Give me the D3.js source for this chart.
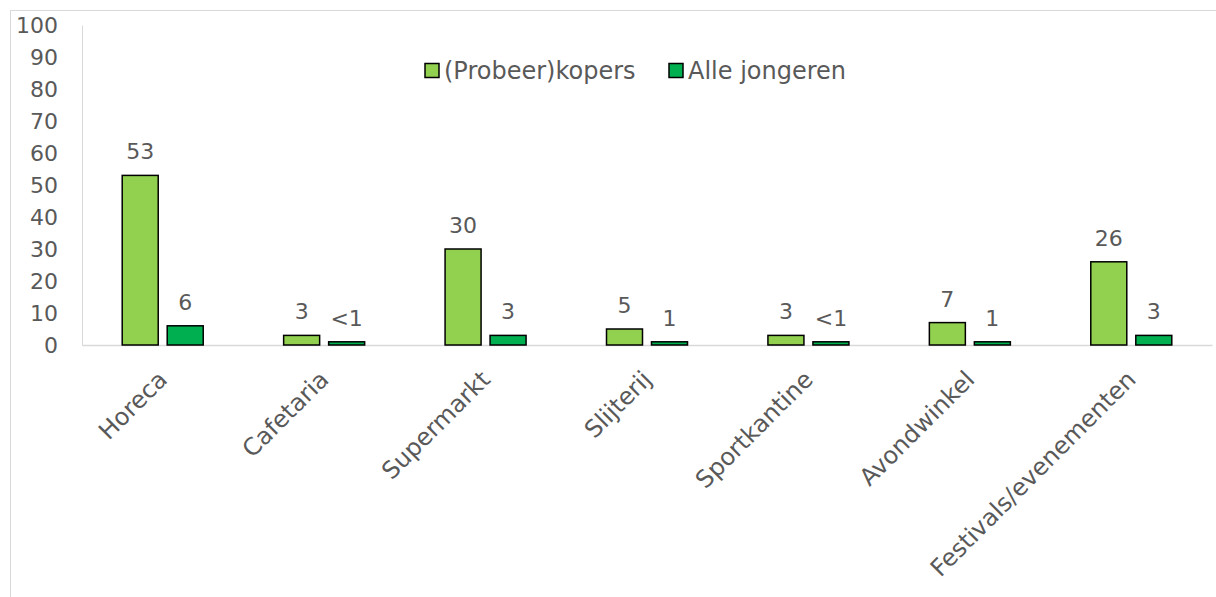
<!DOCTYPE html>
<html>
<head>
<meta charset="utf-8">
<script src="https://cdn.jsdelivr.net/npm/d3@7"></script>
<style>
  body { margin: 0; background: #fff; }
  text { font-family: "DejaVu Sans", Verdana, sans-serif; fill: #595959; }
</style>
</head>
<body>
<script>
const categories = ["Horeca", "Cafetaria", "Supermarkt", "Slijterij", "Sportkantine", "Avondwinkel", "Festivals/evenementen"];
const seriesNames = ["(Probeer)kopers", "Alle jongeren"];
const kopers = [53, 3, 30, 5, 3, 7, 26];
const jongeren = [6, 1, 3, 1, 1, 1, 3];
const kopersLabels = ["53", "3", "30", "5", "3", "7", "26"];
const jongerenLabels = ["6", "<1", "3", "1", "<1", "1", "3"];
const yTicks = [0, 10, 20, 30, 40, 50, 60, 70, 80, 90, 100];
const colors = ["#92D050", "#00B050"];

const W = 1216, H = 597;
const plotLeft = 82, plotRight = 1212, plotTop = 25, plotBottom = 345;
const fsNum = 22;   // numbers
const fsText = 24;  // words

const svg = d3.select("body").append("svg")
    .attr("width", W)
    .attr("height", H);

// chart border (runs off the right and bottom edges)
svg.append("rect")
    .attr("x", 10.5).attr("y", 10.5)
    .attr("width", W).attr("height", H)
    .attr("fill", "none")
    .attr("stroke", "#d9d9d9");

const x = d3.scaleBand()
    .domain(categories)
    .range([plotLeft, plotRight]);

const y = d3.scaleLinear()
    .domain([0, 100])
    .range([plotBottom, plotTop]);

// y axis
const yAxis = svg.append("g")
    .attr("transform", "translate(" + plotLeft + ",0)")
    .call(d3.axisLeft(y).tickValues(yTicks).tickSize(0).tickPadding(24));
yAxis.select(".domain").attr("stroke", "#d9d9d9");
yAxis.selectAll("text")
    .style("font-size", fsNum + "px")
    .style("font-family", "DejaVu Sans, Verdana, sans-serif")
    .attr("fill", "#595959");

// x axis
const xAxis = svg.append("g")
    .attr("transform", "translate(0," + plotBottom + ")")
    .call(d3.axisBottom(x).tickSize(0).tickFormat(""));
xAxis.select(".domain").attr("stroke", "#d9d9d9").attr("stroke-width", 1.5);

const barW = 36, gap = 9;
const series = [kopers, jongeren];
const labels = [kopersLabels, jongerenLabels];

series.forEach(function (vals, s) {
    const offset = s === 0 ? -gap / 2 - barW : gap / 2;
    svg.append("g").selectAll("rect")
        .data(vals)
        .enter()
        .append("rect")
        .attr("x", (d, i) => x(categories[i]) + x.bandwidth() / 2 + offset)
        .attr("y", d => y(d))
        .attr("width", barW)
        .attr("height", d => plotBottom - y(d))
        .attr("fill", colors[s])
        .attr("stroke", "#000")
        .attr("stroke-width", 1.5);

    svg.append("g").selectAll("text")
        .data(vals)
        .enter()
        .append("text")
        .attr("x", (d, i) => x(categories[i]) + x.bandwidth() / 2 + offset + barW / 2)
        .attr("y", d => y(d) - 16)
        .attr("text-anchor", "middle")
        .style("font-size", fsNum + "px")
        .text((d, i) => labels[s][i]);
});

// category labels, rotated
svg.append("g").selectAll("text")
    .data(categories)
    .enter()
    .append("text")
    .attr("transform", d => "translate(" + (x(d) + x.bandwidth() / 2 + 6) + ",381) rotate(-45)")
    .attr("text-anchor", "end")
    .style("font-size", fsText + "px")
    .text(d => d);

// legend
const legendX = [425, 669];
const legend = svg.append("g");
seriesNames.forEach(function (name, i) {
    legend.append("rect")
        .attr("x", legendX[i]).attr("y", 63.5)
        .attr("width", 14).attr("height", 14)
        .attr("fill", colors[i])
        .attr("stroke", "#000")
        .attr("stroke-width", 1.5);
    legend.append("text")
        .attr("x", legendX[i] + 19).attr("y", 79)
        .style("font-size", fsText + "px")
        .text(name);
});
</script>
</body>
</html>
